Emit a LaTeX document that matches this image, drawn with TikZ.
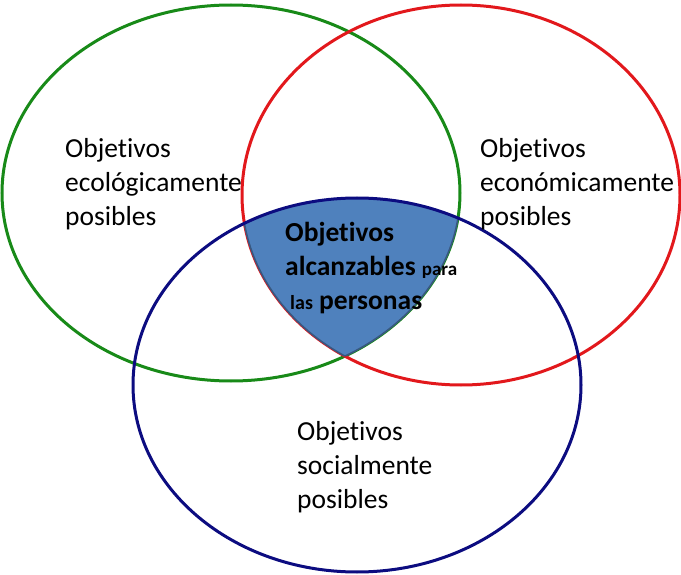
\documentclass[tikz,border=0pt]{standalone}
\usepackage{fontspec}
\setmainfont{Carlito}[Ligatures=NoCommon]
\definecolor{ecogreen}{RGB}{24,138,24}
\definecolor{econred}{RGB}{226,24,28}
\definecolor{socnavy}{RGB}{12,12,128}
\definecolor{reachfill}{RGB}{79,129,189}
\definecolor{reachrim}{RGB}{56,88,128}

\begin{document}
\begin{tikzpicture}[x=1pt,y=-1pt,
  ring/.style={line width=3pt},
  rim/.style={draw=reachrim,line width=1.6pt},
  goaltext/.style={anchor=north west,align=left,inner sep=0pt,font=\fontsize{27.5}{34}\selectfont},
  reachtext/.style={anchor=north west,align=left,inner sep=0pt,font=\fontsize{27.5}{34}\selectfont\bfseries}]
\useasboundingbox (0,0) rectangle (681,575);
\coordinate (eco) at (231,193);
\coordinate (econ) at (461,195);
\coordinate (soc) at (357,385);
\def\ecoring{(eco) ellipse [x radius=229pt,y radius=188pt]}
\def\econring{(econ) ellipse [x radius=219pt,y radius=190pt]}
\def\socring{(soc) ellipse [x radius=224pt,y radius=187pt]}
\draw[ring,ecogreen] \ecoring;
\draw[ring,econred] \econring;
% common part of the three
\begin{scope}
  \clip \ecoring; \clip \econring;
  \fill[reachfill] \socring;
\end{scope}
\begin{scope}
  \clip \econring; \clip \socring;
  \draw[rim] \ecoring;
\end{scope}
\begin{scope}
  \clip \ecoring; \clip \socring;
  \draw[rim] \econring;
\end{scope}
\draw[ring,socnavy] \socring;
\node[goaltext] (ecotext) at (65,138) {Objetivos\\ecológicamente\\posibles};
\node[goaltext] (econtext) at (480,138) {Objetivos\\económicamente\\posibles};
\node[goaltext] (soctext) at (297,421) {Objetivos\\socialmente\\posibles};
\node[reachtext] (reachtext) at (285,222) {Objetivos\\
  alcanzables {\fontsize{19}{20}\selectfont para}\\
  \hspace{5pt}{\fontsize{20}{20}\selectfont las} personas};
\end{tikzpicture}
\end{document}
